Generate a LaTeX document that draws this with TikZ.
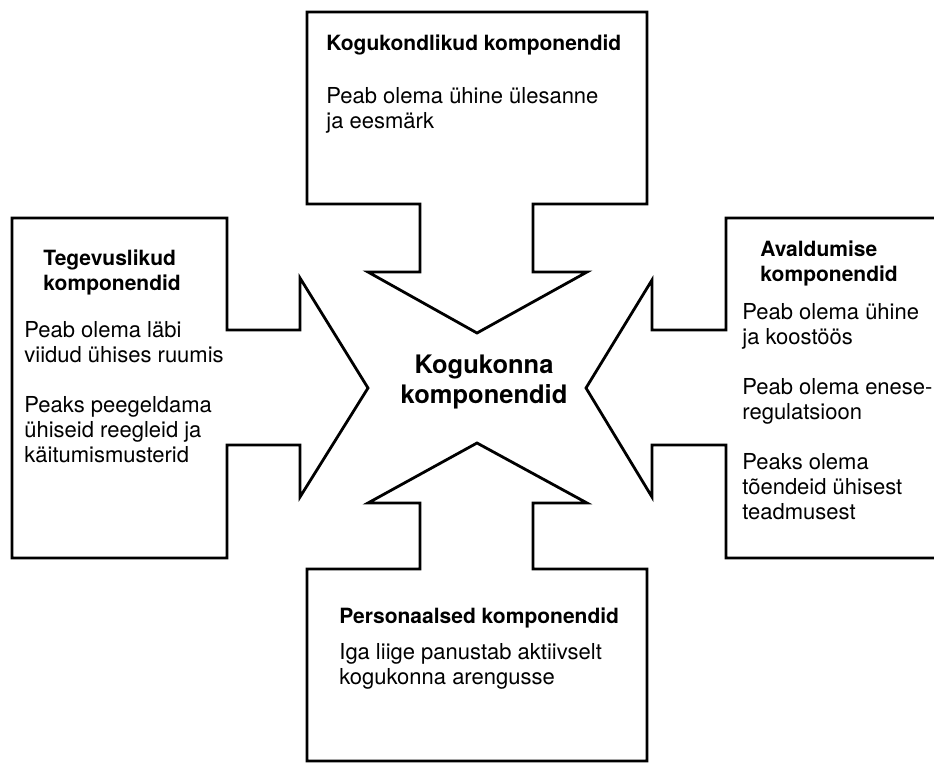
\documentclass[tikz,border=0pt]{standalone}
\usepackage{fontspec}
\setmainfont{TeX Gyre Heros}

\begin{document}
\begin{tikzpicture}[x=1pt,y=-1pt,line width=2.8pt,
  headtext/.style={inner sep=0pt,anchor=base west,align=left,font=\fontsize{21}{25}\selectfont\bfseries},
  bodytext/.style={inner sep=0pt,anchor=base west,align=left,font=\fontsize{22}{25}\selectfont},
  centretext/.style={inner sep=0pt,anchor=base,align=center,font=\fontsize{25.5}{30}\selectfont\bfseries}]
\useasboundingbox (0,0) rectangle (934,763);

% top box, arrow down
\draw (307,12) -- (647,12) -- (647,204) -- (533,204) -- (533,272) -- (587,272)
  -- (477,333) -- (368,272) -- (420,272) -- (420,204) -- (307,204) -- cycle;
\node[headtext] (kogukondlikud) at (325,50) {Kogukondlikud komponendid};
\node[bodytext] (kogukondlikudtext) at (325,128) {Peab olema ühine ülesanne\\ja eesmärk};

%-------------------------------------
% left box, arrow right
\draw (12,218) -- (227,218) -- (227,330) -- (300,330) -- (300,278) -- (368,388)
  -- (300,497) -- (300,445) -- (227,445) -- (227,558) -- (12,558) -- cycle;
\node[headtext] (tegevuslikud) at (42,290) {Tegevuslikud\\komponendid};
\node[bodytext] (tegevuslikudtext) at (23,462) {Peab olema läbi\\viidud ühises ruumis\\[25pt]Peaks peegeldama\\ühiseid reegleid ja\\käitumismusterid};

%-------------------------------------
% right box, arrow left
\draw (945,218) -- (726,218) -- (726,330) -- (652,330) -- (652,280) -- (586,388)
  -- (652,497) -- (652,445) -- (726,445) -- (726,558) -- (945,558);
\node[headtext] (avaldumise) at (759,281) {Avaldumise\\komponendid};
\node[bodytext] (avaldumisetext) at (741,519) {Peab olema ühine\\ja koostöös\\[25pt]Peab olema enese-\\regulatsioon\\[25pt]Peaks olema\\tõendeid ühisest\\teadmusest};

%-------------------------------------
% bottom box, arrow up
\draw (307,761) -- (307,569) -- (420,569) -- (420,503) -- (368,503) -- (477,443)
  -- (587,503) -- (533,503) -- (533,569) -- (647,569) -- (647,761) -- cycle;
\node[headtext] (personaalsed) at (338,623) {Personaalsed komponendid};
\node[bodytext] (personaalsedtext) at (338,684) {Iga liige panustab aktiivselt\\kogukonna arengusse};

% centre
\node[centretext] (kogukond) at (484,403) {Kogukonna\\komponendid};
\end{tikzpicture}
\end{document}
